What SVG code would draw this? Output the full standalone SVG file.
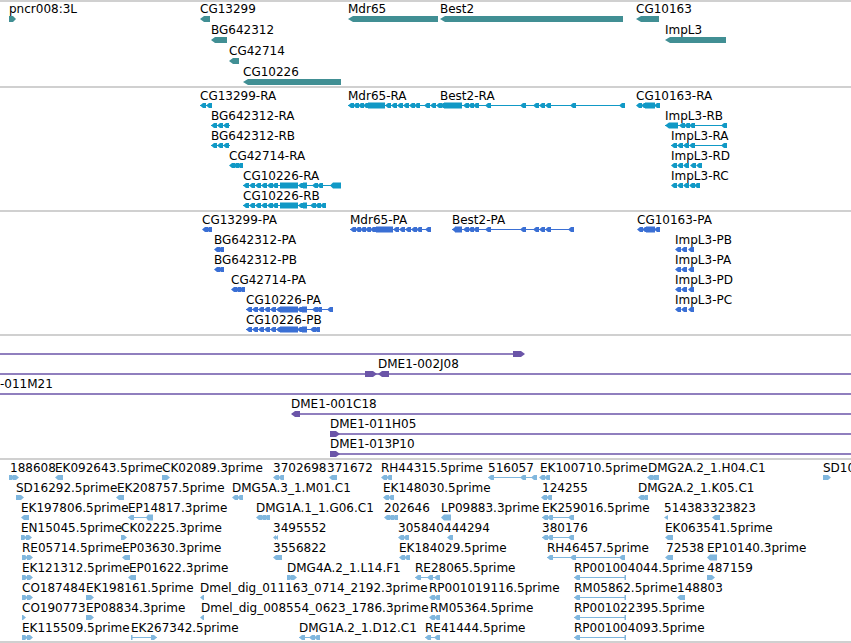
<svg xmlns="http://www.w3.org/2000/svg" xmlns:xlink="http://www.w3.org/1999/xlink" width="851" height="643" viewBox="0 0 851 643">
<style>
text{font-family:"DejaVu Sans","Liberation Sans",sans-serif;font-size:12px;fill:#000}
.sep{stroke:#c0c0c0;stroke-width:1.5}
.g1{fill:#418f94}
.g2{color:#1199c6;fill:#1199c6}
.g3{color:#3a6fd4;fill:#3a6fd4}
.g4{color:#6b55a8;fill:#6b55a8}
.g5{color:#80b7de;fill:#80b7de}
.ln{stroke:currentColor;stroke-width:1;fill:none}
.cl{stroke:currentColor;stroke-width:1.3;fill:none}
</style>
<defs>
<path id="e" d="M0,0 L3,-2.5 L6,-2.5 L6,2.5 L3,2.5Z"/>
<path id="r" d="M6,0 L3,-2.5 L0,-2.5 L0,2.5 L3,2.5Z"/>
<path id="L" d="M0,0 L3,-2.5 L8,-2.5 L8,2.5 L3,2.5Z"/>
<path id="R" d="M8,0 L5,-2.5 L0,-2.5 L0,2.5 L5,2.5Z"/>
</defs>
<rect width="851" height="643" fill="#fff"/>
<g id="separators">
<line class="sep" x1="0" y1="1" x2="851" y2="1"/>
<line class="sep" x1="0" y1="87" x2="851" y2="87"/>
<line class="sep" x1="0" y1="211" x2="851" y2="211"/>
<line class="sep" x1="0" y1="335" x2="851" y2="335"/>
<line class="sep" x1="0" y1="459" x2="851" y2="459"/>
<line class="sep" x1="0" y1="642" x2="851" y2="642"/>
</g>

<!-- Track 1: genes -->
<g id="genes" class="g1">
<g id="gene-pncr008" transform="translate(0,19)"><text x="9" y="-6">pncr008:3L</text><polygon class="g1" points="9,-3 13,-3 16,0 13,3 9,3"/></g>
<g id="gene-CG13299" transform="translate(0,19)"><text x="200" y="-6">CG13299</text><polygon class="g1" points="200,0 204,-3 210,-3 210,3 204,3"/></g>
<g id="gene-BG642312" transform="translate(0,40)"><text x="211" y="-6">BG642312</text><polygon class="g1" points="211,0 215,-3 227,-3 227,3 215,3"/></g>
<g id="gene-CG42714" transform="translate(0,61)"><text x="229" y="-6">CG42714</text><polygon class="g1" points="229,0 233,-3 239,-3 239,3 233,3"/></g>
<g id="gene-CG10226" transform="translate(0,82)"><text x="243" y="-6">CG10226</text><polygon class="g1" points="243,0 248,-3 341,-3 341,3 248,3"/></g>
<g id="gene-Mdr65" transform="translate(0,19)"><text x="348" y="-6">Mdr65</text><polygon class="g1" points="348,0 353,-3 438,-3 438,3 353,3"/></g>
<g id="gene-Best2" transform="translate(0,19)"><text x="440" y="-6">Best2</text><polygon class="g1" points="440,0 445,-3 623,-3 623,3 445,3"/></g>
<g id="gene-CG10163" transform="translate(0,19)"><text x="636" y="-6">CG10163</text><polygon class="g1" points="636,0 641,-3 659,-3 659,3 641,3"/></g>
<g id="gene-ImpL3" transform="translate(0,40)"><text x="665" y="-6">ImpL3</text><polygon class="g1" points="665,0 670,-3 726,-3 726,3 670,3"/></g>
</g>

<!-- Track 2: transcripts -->
<g id="transcripts" class="g2">
<g id="tx-CG13299-RA" transform="translate(0,105.5)"><text x="200" y="-5.5">CG13299-RA</text><path class="ln" d="M200,0H212"/><use href="#e" x="200"/><use href="#e" x="206"/></g>
<g id="tx-Mdr65-RA" transform="translate(0,105.5)"><text x="348" y="-5.5">Mdr65-RA</text><path class="ln" d="M348,0H438"/>
<use href="#e" x="348"/><use href="#e" x="353"/><use href="#e" x="358"/><use href="#e" x="363"/><rect x="368" y="-3" width="17" height="6"/><use href="#e" x="385"/><use href="#e" x="391"/><use href="#e" x="397"/><use href="#e" x="403"/><use href="#e" x="409"/><use href="#e" x="414"/><use href="#e" x="424"/><use href="#e" x="430"/></g>
<g id="tx-Best2-RA" transform="translate(0,105.5)"><text x="440" y="-5.5">Best2-RA</text><path class="ln" d="M436,0H625"/>
<use href="#e" x="436"/><use href="#e" x="440"/><rect x="444" y="-3" width="18" height="6"/><use href="#e" x="463"/><use href="#e" x="468"/><use href="#e" x="473"/><use href="#e" x="485"/><use href="#e" x="520"/><use href="#e" x="533"/><use href="#e" x="539"/><use href="#e" x="545"/><use href="#e" x="570"/><use href="#e" x="619"/></g>
<g id="tx-CG10163-RA" transform="translate(0,105.5)"><text x="636" y="-5.5">CG10163-RA</text><use href="#e" x="636"/><use href="#e" x="641"/><rect x="645" y="-3" width="10" height="6"/><use href="#e" x="654"/></g>
<g id="tx-BG642312-RA" transform="translate(0,125.5)"><text x="211" y="-5.5">BG642312-RA</text><path class="ln" d="M211,0H230"/><use href="#e" x="211"/><use href="#e" x="217"/><use href="#e" x="223"/></g>
<g id="tx-ImpL3-RB" transform="translate(0,125.5)"><text x="665" y="-5.5">ImpL3-RB</text><path class="ln" d="M665,0H727"/><polygon points="665,0 669,-3 678,-3 678,3 669,3"/><use href="#e" x="679"/><use href="#e" x="684"/><use href="#e" x="689"/><use href="#e" x="721"/></g>
<g id="tx-BG642312-RB" transform="translate(0,145.5)"><text x="211" y="-5.5">BG642312-RB</text><path class="ln" d="M211,0H230"/><use href="#e" x="211"/><use href="#e" x="217"/><use href="#e" x="223"/></g>
<g id="tx-ImpL3-RA" transform="translate(0,145.5)"><text x="671" y="-5.5">ImpL3-RA</text><path class="ln" d="M671,0H727"/><use href="#e" x="671"/><use href="#e" x="677"/><use href="#e" x="683"/><use href="#e" x="689"/><use href="#e" x="721"/></g>
<g id="tx-CG42714-RA" transform="translate(0,165.5)"><text x="229" y="-5.5">CG42714-RA</text><use href="#e" x="229"/><use href="#e" x="233"/><use href="#e" x="237"/></g>
<g id="tx-ImpL3-RD" transform="translate(0,165.5)"><text x="671" y="-5.5">ImpL3-RD</text><use href="#e" x="671"/><use href="#e" x="677"/><use href="#e" x="683"/><use href="#e" x="690"/><use href="#e" x="696"/></g>
<g id="tx-CG10226-RA" transform="translate(0,185.5)"><text x="243" y="-5.5">CG10226-RA</text><path class="ln" d="M243,0H341"/><use href="#e" x="243"/><use href="#e" x="249"/><use href="#e" x="255"/><use href="#e" x="261"/><use href="#e" x="267"/><use href="#e" x="272"/><rect x="280" y="-3" width="18" height="6"/><use href="#e" x="298"/><rect x="303" y="-3" width="4" height="6"/><use href="#e" x="312"/><use href="#e" x="317"/><polygon points="330,0 333,-3 341,-3 341,3 333,3"/></g>
<g id="tx-ImpL3-RC" transform="translate(0,185.5)"><text x="671" y="-5.5">ImpL3-RC</text><use href="#e" x="671"/><use href="#e" x="677"/><use href="#e" x="683"/><use href="#e" x="689"/><use href="#e" x="694"/></g>
<g id="tx-CG10226-RB" transform="translate(0,205.5)"><text x="243" y="-5.5">CG10226-RB</text><path class="ln" d="M243,0H326"/><use href="#e" x="243"/><use href="#e" x="249"/><use href="#e" x="255"/><use href="#e" x="261"/><use href="#e" x="267"/><use href="#e" x="272"/><rect x="280" y="-3" width="18" height="6"/><use href="#e" x="298"/><rect x="303" y="-3" width="4" height="6"/><use href="#e" x="310"/><use href="#e" x="315"/><use href="#e" x="320"/></g>
</g>

<!-- Track 3: proteins -->
<g id="proteins" class="g3">
<g id="pp-CG13299-PA" transform="translate(0,229.5)"><text x="202" y="-5.5">CG13299-PA</text><use href="#e" x="202"/><use href="#e" x="206"/></g>
<g id="pp-Mdr65-PA" transform="translate(0,229.5)"><text x="350" y="-5.5">Mdr65-PA</text><path class="ln" d="M350,0H431"/><use href="#e" x="350"/><use href="#e" x="355"/><use href="#e" x="360"/><use href="#e" x="365"/><use href="#e" x="370"/><rect x="376" y="-3" width="17" height="6"/><use href="#e" x="393"/><use href="#e" x="399"/><use href="#e" x="405"/><use href="#e" x="411"/><use href="#e" x="416"/><use href="#e" x="425"/></g>
<g id="pp-Best2-PA" transform="translate(0,229.5)"><text x="452" y="-5.5">Best2-PA</text><path class="ln" d="M452,0H574"/><use href="#e" x="452"/><rect x="455" y="-3" width="7" height="6"/><use href="#e" x="463"/><use href="#e" x="468"/><use href="#e" x="473"/><use href="#e" x="485"/><use href="#e" x="520"/><use href="#e" x="533"/><use href="#e" x="539"/><use href="#e" x="545"/><use href="#e" x="568"/></g>
<g id="pp-CG10163-PA" transform="translate(0,229.5)"><text x="637" y="-5.5">CG10163-PA</text><use href="#e" x="637"/><use href="#e" x="642"/><rect x="646" y="-3" width="9" height="6"/><use href="#e" x="654"/></g>
<g id="pp-BG642312-PA" transform="translate(0,249.5)"><text x="214" y="-5.5">BG642312-PA</text><use href="#e" x="214"/><use href="#e" x="218"/></g>
<g id="pp-ImpL3-PB" transform="translate(0,249.5)"><text x="675" y="-5.5">ImpL3-PB</text><use href="#e" x="675"/><use href="#e" x="681"/><use href="#e" x="688"/></g>
<g id="pp-BG642312-PB" transform="translate(0,269.5)"><text x="214" y="-5.5">BG642312-PB</text><use href="#e" x="214"/><use href="#e" x="218"/></g>
<g id="pp-ImpL3-PA" transform="translate(0,269.5)"><text x="675" y="-5.5">ImpL3-PA</text><use href="#e" x="675"/><use href="#e" x="681"/><use href="#e" x="688"/></g>
<g id="pp-CG42714-PA" transform="translate(0,289.5)"><text x="231" y="-5.5">CG42714-PA</text><use href="#e" x="231"/><use href="#e" x="235"/><use href="#e" x="239"/></g>
<g id="pp-ImpL3-PD" transform="translate(0,289.5)"><text x="675" y="-5.5">ImpL3-PD</text><use href="#e" x="675"/><use href="#e" x="681"/><use href="#e" x="688"/></g>
<g id="pp-CG10226-PA" transform="translate(0,309.5)"><text x="246" y="-5.5">CG10226-PA</text><path class="ln" d="M246,0H333"/><use href="#e" x="246"/><use href="#e" x="252"/><use href="#e" x="258"/><use href="#e" x="264"/><use href="#e" x="270"/><use href="#e" x="276"/><rect x="280" y="-3" width="18" height="6"/><use href="#e" x="297"/><rect x="302" y="-3" width="5" height="6"/><use href="#e" x="312"/><use href="#e" x="316"/><use href="#e" x="327"/></g>
<g id="pp-ImpL3-PC" transform="translate(0,309.5)"><text x="675" y="-5.5">ImpL3-PC</text><use href="#e" x="675"/><use href="#e" x="681"/><use href="#e" x="688"/></g>
<g id="pp-CG10226-PB" transform="translate(0,329.5)"><text x="246" y="-5.5">CG10226-PB</text><path class="ln" d="M246,0H320"/><use href="#e" x="246"/><use href="#e" x="252"/><use href="#e" x="258"/><use href="#e" x="264"/><use href="#e" x="270"/><use href="#e" x="276"/><rect x="280" y="-3" width="18" height="6"/><use href="#e" x="297"/><rect x="302" y="-3" width="5" height="6"/><use href="#e" x="310"/><use href="#e" x="314"/></g>
</g>

<!-- Track 4: clones -->
<g id="clones" class="g4">
<g id="clone-1"><path class="cl" d="M0,354H516"/><polygon points="513,351 521,351 525,354 521,357 513,357"/></g>
<g id="clone-DME1-002J08"><text x="378" y="368">DME1-002J08</text><path class="cl" d="M0,374H851"/><polygon points="365,371 373,371 377,374 373,377 365,377"/><polygon points="378,374 382,371 389,371 389,377 382,377"/></g>
<g id="clone-DME1-011M21"><text x="0" y="388">-011M21</text><path class="cl" d="M0,394H851"/></g>
<g id="clone-DME1-001C18"><text x="291" y="408">DME1-001C18</text><path class="cl" d="M292,414H851"/><polygon points="291,414 295,411 300,411 300,417 295,417"/></g>
<g id="clone-DME1-011H05"><text x="330" y="428">DME1-011H05</text><path class="cl" d="M330,434H851"/><polygon points="330,431 336,431 340,434 336,437 330,437"/></g>
<g id="clone-DME1-013P10"><text x="330" y="448">DME1-013P10</text><path class="cl" d="M330,454H851"/><polygon points="330,451 336,451 340,454 336,457 330,457"/></g>
</g>

<!-- Track 5: ESTs -->
<g id="ests" class="g5">
<g id="est-row0" transform="translate(0,477.5)">
<g id="est-188608"><text x="10" y="-5.5">188608</text><use href="#r" x="9"/><use href="#r" x="13"/></g>
<g id="est-EK092643"><text x="55" y="-5.5">EK092643.5prime</text><use href="#L" x="55"/></g>
<g id="est-CK02089"><text x="162" y="-5.5">CK02089.3prime</text><use href="#R" x="162"/></g>
<g id="est-3702698"><text x="273" y="-5.5">3702698</text><use href="#e" x="273"/><use href="#e" x="278"/></g>
<g id="est-371672"><text x="327" y="-5.5">371672</text><use href="#L" x="329"/></g>
<g id="est-RH44315"><text x="381" y="-5.5">RH44315.5prime</text><use href="#e" x="381"/><use href="#e" x="386"/></g>
<g id="est-516057"><text x="488" y="-5.5">516057</text><path class="ln" d="M488,0H537"/><use href="#e" x="488"/><use href="#e" x="520"/><use href="#e" x="531"/></g>
<g id="est-EK100710"><text x="540" y="-5.5">EK100710.5prime</text><use href="#e" x="539"/><use href="#e" x="544"/></g>
<g id="est-DMG2A-H04"><text x="648" y="-5.5">DMG2A.2_1.H04.C1</text><use href="#e" x="647"/><use href="#L" x="651"/></g>
<g id="est-SD10"><text x="823" y="-5.5">SD10</text><use href="#R" x="823"/></g>
</g>
<g id="est-row1" transform="translate(0,497.5)">
<g id="est-SD16292"><text x="16" y="-5.5">SD16292.5prime</text><use href="#R" x="16"/></g>
<g id="est-EK208757"><text x="117" y="-5.5">EK208757.5prime</text><use href="#L" x="116"/></g>
<g id="est-DMG5A"><text x="232" y="-5.5">DMG5A.3_1.M01.C1</text><use href="#e" x="232"/><use href="#e" x="237"/></g>
<g id="est-EK148030"><text x="383" y="-5.5">EK148030.5prime</text><use href="#e" x="383"/><use href="#e" x="388"/></g>
<g id="est-124255"><text x="542" y="-5.5">124255</text><use href="#e" x="541"/><use href="#e" x="546"/></g>
<g id="est-DMG2A-K05"><text x="638" y="-5.5">DMG2A.2_1.K05.C1</text><use href="#e" x="638"/><use href="#e" x="642"/></g>
</g>
<g id="est-row2" transform="translate(0,517.5)">
<g id="est-EK197806"><text x="21" y="-5.5">EK197806.5prime</text><use href="#L" x="21"/></g>
<g id="est-EP14817"><text x="128" y="-5.5">EP14817.3prime</text><path class="ln" d="M128,0H153"/><use href="#e" x="128"/><polygon points="146,0 148,-3 153,-3 153,3 148,3"/></g>
<g id="est-DMG1A-G06"><text x="256" y="-5.5">DMG1A.1_1.G06.C1</text><use href="#e" x="256"/><use href="#e" x="260"/><use href="#e" x="264"/></g>
<g id="est-202646"><text x="384" y="-5.5">202646</text><use href="#e" x="384"/><use href="#e" x="388"/><use href="#e" x="392"/></g>
<g id="est-LP09883"><text x="441" y="-5.5">LP09883.3prime</text><polygon points="441,0 444,-3 451,-3 451,3 444,3"/></g>
<g id="est-EK259016"><text x="542" y="-5.5">EK259016.5prime</text><path class="ln" d="M542,0H573"/><use href="#e" x="542"/><use href="#e" x="547"/><use href="#e" x="568"/></g>
<g id="est-514383"><text x="664" y="-5.5">514383</text><path d="M664,0 L668,-2.5 L668,2.5Z"/></g>
<g id="est-323823"><text x="710" y="-5.5">323823</text><use href="#L" x="712"/></g>
</g>
<g id="est-row3" transform="translate(0,537.5)">
<g id="est-EN15045"><text x="21" y="-5.5">EN15045.5prime</text><use href="#r" x="21"/><use href="#r" x="26"/></g>
<g id="est-CK02225"><text x="121" y="-5.5">CK02225.3prime</text><use href="#r" x="121"/></g>
<g id="est-3495552"><text x="273" y="-5.5">3495552</text><path d="M273,0 L276,-2.5 L276,2.5Z M275,0 L278,-2.5 L278,2.5Z"/></g>
<g id="est-305840"><text x="398" y="-5.5">305840</text><use href="#e" x="398"/><use href="#e" x="403"/></g>
<g id="est-444294"><text x="444" y="-5.5">444294</text><use href="#e" x="447"/></g>
<g id="est-380176"><text x="542" y="-5.5">380176</text><path class="ln" d="M542,0H573"/><use href="#e" x="542"/><use href="#e" x="547"/><use href="#e" x="568"/></g>
<g id="est-EK063541"><text x="665" y="-5.5">EK063541.5prime</text><use href="#L" x="665"/></g>
</g>
<g id="est-row4" transform="translate(0,557.5)">
<g id="est-RE05714"><text x="22" y="-5.5">RE05714.5prime</text><use href="#r" x="22"/><use href="#r" x="27"/></g>
<g id="est-EP03630"><text x="122" y="-5.5">EP03630.3prime</text><use href="#L" x="122"/></g>
<g id="est-3556822"><text x="273" y="-5.5">3556822</text><use href="#e" x="273"/><use href="#e" x="276"/></g>
<g id="est-EK184029"><text x="399" y="-5.5">EK184029.5prime</text><use href="#e" x="399"/><use href="#e" x="404"/></g>
<g id="est-RH46457"><text x="547" y="-5.5">RH46457.5prime</text><path class="ln" d="M547,0H625"/><use href="#e" x="547"/><use href="#e" x="570"/><use href="#e" x="619"/></g>
<g id="est-72538"><text x="666" y="-5.5">72538</text><use href="#L" x="665"/></g>
<g id="est-EP10140"><text x="707" y="-5.5">EP10140.3prime</text><polygon points="707,0 710,-3 717,-3 717,3 710,3"/></g>
</g>
<g id="est-row5" transform="translate(0,577.5)">
<g id="est-EK121312"><text x="22" y="-5.5">EK121312.5prime</text><use href="#r" x="22"/><use href="#r" x="27"/></g>
<g id="est-EP01622"><text x="129" y="-5.5">EP01622.3prime</text><use href="#L" x="128"/></g>
<g id="est-DMG4A"><text x="287" y="-5.5">DMG4A.2_1.L14.F1</text><use href="#r" x="287"/><use href="#r" x="291"/></g>
<g id="est-RE28065"><text x="415" y="-5.5">RE28065.5prime</text><path class="ln" d="M415,0H440"/><use href="#e" x="415"/><use href="#e" x="427"/><use href="#e" x="434"/></g>
<g id="est-RP001004044"><text x="574" y="-5.5">RP001004044.5prime</text><path class="ln" d="M574,0H626"/><use href="#e" x="574"/><rect x="624.5" y="-2.5" width="1.5" height="5"/></g>
<g id="est-487159"><text x="707" y="-5.5">487159</text><use href="#R" x="707"/></g>
</g>
<g id="est-row6" transform="translate(0,597.5)">
<g id="est-CO187484"><text x="22" y="-5.5">CO187484</text><use href="#r" x="22"/><use href="#r" x="27"/></g>
<g id="est-EK198161"><text x="86" y="-5.5">EK198161.5prime</text><use href="#R" x="86"/></g>
<g id="est-Dmel-011163"><text x="200" y="-5.5">Dmel_dig_011163_0714_2192.3prime</text><path d="M200,0 L203,-2.5 L204,-2.5 L204,2.5 L203,2.5Z"/></g>
<g id="est-RP001019116"><text x="429" y="-5.5">RP001019116.5prime</text><use href="#e" x="429"/><use href="#e" x="434"/></g>
<g id="est-RM05862"><text x="574" y="-5.5">RM05862.5prime</text><path class="ln" d="M574,0H626"/><use href="#e" x="574"/><rect x="624.5" y="-2.5" width="1.5" height="5"/></g>
<g id="est-148803"><text x="677" y="-5.5">148803</text><use href="#L" x="677"/></g>
</g>
<g id="est-row7" transform="translate(0,617.5)">
<g id="est-CO190773"><text x="22" y="-5.5">CO190773</text><path d="M26,0 L23,-2.5 L22,-2.5 L22,2.5 L23,2.5Z"/></g>
<g id="est-EP08834"><text x="86" y="-5.5">EP08834.3prime</text><use href="#R" x="86"/></g>
<g id="est-Dmel-008554"><text x="201" y="-5.5">Dmel_dig_008554_0623_1786.3prime</text><path d="M200,0 L203,-2.5 L204,-2.5 L204,2.5 L203,2.5Z"/></g>
<g id="est-RM05364"><text x="430" y="-5.5">RM05364.5prime</text><use href="#e" x="429"/><use href="#e" x="434"/></g>
<g id="est-RP001022395"><text x="574" y="-5.5">RP001022395.5prime</text><path class="ln" d="M574,0H626"/><use href="#e" x="574"/><rect x="624.5" y="-2.5" width="1.5" height="5"/></g>
</g>
<g id="est-row8" transform="translate(0,637.5)">
<g id="est-EK115509"><text x="22" y="-5.5">EK115509.5prime</text><use href="#r" x="22"/><use href="#r" x="27"/></g>
<g id="est-EK267342"><text x="131" y="-5.5">EK267342.5prime</text><path class="ln" d="M131,0H157"/><rect x="131" y="-2.5" width="1.5" height="5"/><use href="#r" x="151"/></g>
<g id="est-DMG1A-D12"><text x="299" y="-5.5">DMG1A.2_1.D12.C1</text><path class="ln" d="M299,0H320"/><use href="#e" x="299"/><use href="#e" x="309"/><use href="#e" x="314"/></g>
<g id="est-RE41444"><text x="425" y="-5.5">RE41444.5prime</text><path class="ln" d="M425,0H440"/><use href="#e" x="425"/><use href="#e" x="434"/></g>
<g id="est-RP001004093"><text x="574" y="-5.5">RP001004093.5prime</text><path class="ln" d="M574,0H626"/><use href="#e" x="574"/><rect x="624.5" y="-2.5" width="1.5" height="5"/></g>
</g>
</g>
<g id="connectors"/>
</svg>
